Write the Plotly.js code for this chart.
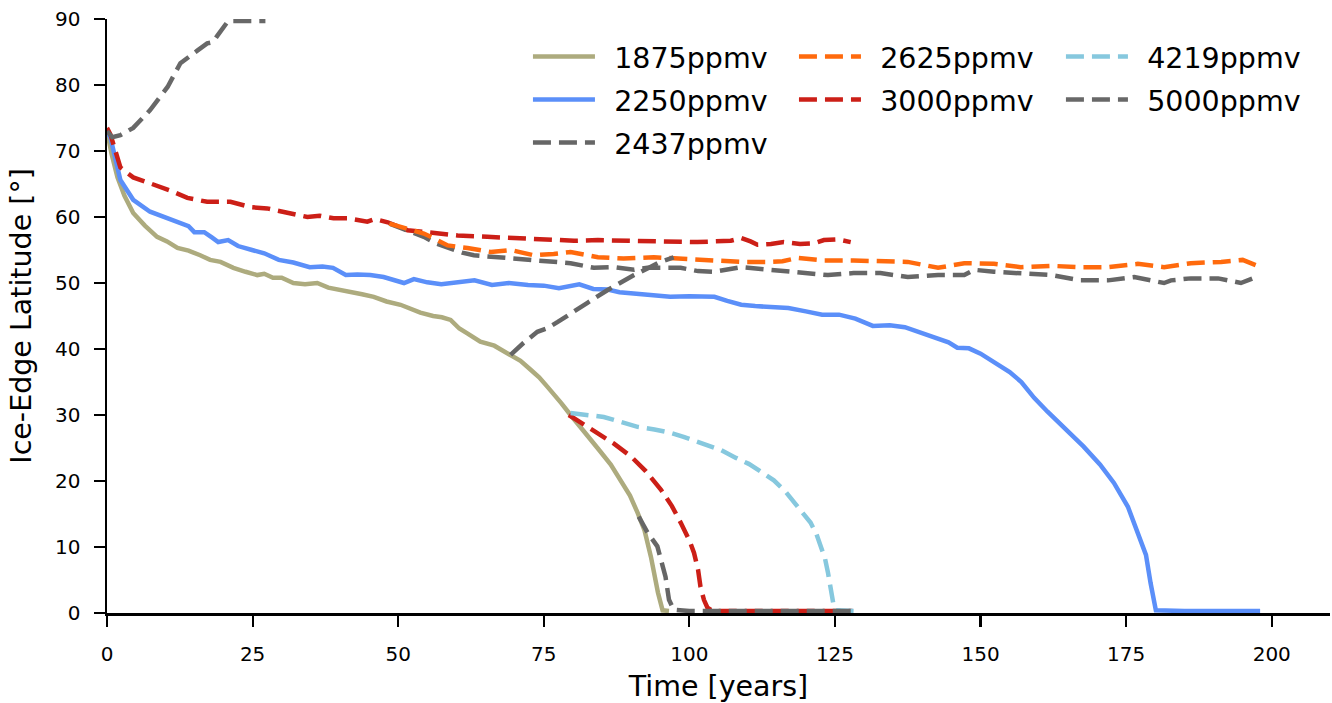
<!DOCTYPE html>
<html>
<head>
<meta charset="utf-8">
<script src="https://cdn.plot.ly/plotly-3.0.1.min.js"></script>
<style>html,body{margin:0;padding:0;background:#fff;}#chart{width:1332px;height:703px;}</style>
</head>
<body>
<div id="chart"></div>
<script>
// ---- data ----
const t1875 = [0, 0.8, 1.8, 3, 4.5, 6.5, 8.6, 10.3, 12.1, 14, 16, 17.7, 19.5, 21.7, 23.8, 25.8, 27, 28.5, 30, 32, 34, 36.1, 38, 40, 41.8, 43.8, 45.8, 48, 50.4, 52, 53.8, 56, 57.5, 59, 60.5, 62, 64.1, 66.5, 69.3, 71, 72.7, 74.2, 75.6, 76.7, 78, 79.6, 82, 84.5, 86.5, 88.2, 89.8, 91.1, 92.3, 93.4, 94.6, 95.4, 96.5];
const lat1875 = [73, 69.5, 66, 63.2, 60.6, 58.7, 57, 56.3, 55.3, 54.9, 54.2, 53.5, 53.2, 52.3, 51.7, 51.2, 51.4, 50.8, 50.8, 50, 49.8, 50, 49.3, 49, 48.6, 48.3, 47.9, 47.2, 46.7, 46.2, 45.5, 45, 44.8, 44.4, 43.1, 42.3, 41.1, 40.5, 39.1, 38.2, 36.9, 35.7, 34.3, 33.2, 31.8, 30, 27.5, 24.7, 22.5, 20.2, 17.8, 15.2, 12.5, 8.5, 3.1, 0.4, 0.3];

const t2250 = [0, 0.6, 2.3, 4.5, 7.4, 10, 12.2, 14, 15, 16.7, 18, 19.1, 20.8, 22.5, 24.9, 27, 29.5, 32, 34.8, 37, 38.8, 41, 43, 45.2, 47.5, 49.5, 51, 52.7, 55, 57.4, 60, 63.1, 66.1, 69, 72.3, 75, 77.6, 79.5, 81.1, 83.5, 86, 88, 91, 94, 96.7, 100, 104.3, 106.5, 108.9, 111.3, 114, 117, 120, 122.8, 125.7, 128.5, 131.5, 134.4, 137, 139.5, 142, 144.5, 146, 148, 150, 152.5, 155, 157, 159.2, 161.5, 164.3, 166, 167.7, 170.5, 172.9, 175.3, 177, 178.4, 179.2, 180.1, 185, 190, 195, 198];
const lat2250 = [73, 72, 65.6, 62.6, 60.8, 59.9, 59.2, 58.6, 57.7, 57.7, 56.9, 56.2, 56.5, 55.6, 55, 54.5, 53.5, 53.1, 52.4, 52.5, 52.3, 51.2, 51.3, 51.2, 50.9, 50.4, 50, 50.6, 50.1, 49.8, 50.1, 50.4, 49.7, 50, 49.7, 49.6, 49.2, 49.6, 49.8, 49.1, 49, 48.6, 48.3, 48.1, 47.9, 48, 47.9, 47.3, 46.7, 46.5, 46.4, 46.2, 45.7, 45.2, 45.2, 44.6, 43.5, 43.6, 43.3, 42.5, 41.8, 41, 40.2, 40.1, 39.3, 37.8, 36.5, 35, 32.6, 30.5, 28.2, 26.8, 25.2, 22.5, 19.7, 16.1, 12, 8.8, 4.5, 0.4, 0.3, 0.3, 0.3, 0.3];

const t2437a = [48.5, 50.4, 52.5, 54.4, 56.5, 58.5, 61, 63, 65.5, 68.2, 71.6, 73.5, 75.7, 77.5, 79.6, 83.6, 87.1, 90.5, 92.8, 95.5, 98.5, 101.5, 104.2, 108.8, 113.5, 118.6, 123.8, 128.2, 132.8, 137.5, 142.7, 147.2, 148.9, 152.3, 156.9, 162.1, 167.2, 171.9, 176.4, 181.5, 182.7, 186.1, 190.8, 194.7, 197.3];
const lat2437a = [59, 58.3, 57.6, 57, 56, 55.3, 54.6, 54.2, 54, 53.9, 53.5, 53.4, 53.3, 53.1, 53, 52.3, 52.4, 52, 52.3, 52.3, 52.3, 51.8, 51.7, 52.4, 52, 51.7, 51.2, 51.5, 51.5, 50.9, 51.2, 51.2, 52, 51.7, 51.5, 51.2, 50.4, 50.4, 50.9, 50, 50.4, 50.7, 50.7, 50, 50.9];
const t2437b = [69.3, 71.5, 73.9, 75.5, 77.4, 80, 82.5, 85.9, 88.7, 90.5, 92.8, 95, 97.3];
const lat2437b = [39.1, 40.9, 42.6, 43.1, 44.1, 45.5, 47, 48.9, 50.4, 51.2, 52.2, 53.2, 53.9];
const t2437c = [91.3, 92.8, 94.5, 95.9, 96.5, 97.3, 100, 105, 110, 115, 120, 125, 128.2];
const lat2437c = [14.6, 12.2, 10.1, 5.5, 2, 0.5, 0.3, 0.3, 0.3, 0.3, 0.3, 0.3, 0.3];

const t2625 = [48.5, 50.4, 52.5, 54.4, 56.5, 58.5, 61.9, 65.9, 69.3, 73.3, 76.7, 79.6, 84.3, 88.7, 93.9, 98.5, 104.2, 108.8, 113.5, 116, 118.6, 123.1, 128.2, 133.4, 137.5, 142.7, 147.2, 152.3, 156.9, 162.1, 167.2, 171.9, 177, 181.5, 186.1, 191.3, 195, 197.3];
const lat2625 = [59, 58.5, 58, 57.5, 56.6, 55.7, 55.3, 54.7, 55, 54.2, 54.4, 54.7, 53.9, 53.7, 53.9, 53.7, 53.4, 53.2, 53.2, 53.3, 53.8, 53.4, 53.4, 53.2, 53.2, 52.3, 53, 52.9, 52.4, 52.6, 52.4, 52.4, 52.9, 52.4, 53, 53.2, 53.5, 52.7];

const t3000a = [0, 0.6, 2.3, 4.5, 7.4, 10.9, 13.8, 17.2, 21.2, 24.6, 27.5, 30.9, 34.4, 36.5, 38.9, 41.5, 44.7, 46, 48.2, 51.6, 55.6, 60.2, 65.3, 69.8, 75.6, 80.2, 84.3, 89.9, 95.6, 101.4, 107.1, 108.9, 110.5, 111.7, 114, 116.2, 119, 121.4, 123.1, 125.5, 127.7];
const lat3000a = [73.5, 72.5, 67.5, 66, 65.1, 64, 62.9, 62.3, 62.3, 61.5, 61.3, 60.6, 60, 60.2, 59.8, 59.8, 59.3, 59.7, 59.2, 58, 57.7, 57.2, 57, 56.8, 56.5, 56.4, 56.5, 56.4, 56.4, 56.2, 56.4, 56.8, 56.3, 55.8, 55.9, 56.2, 55.9, 56, 56.5, 56.6, 56.2];
const t3000b = [79.3, 81.5, 84.3, 87, 90, 92.5, 95.1, 97, 98.5, 100, 100.8, 101.5, 101.9, 102.5, 103.1, 104, 108, 112, 116, 120, 124, 128];
const lat3000b = [30, 28.8, 27.3, 25.7, 23.7, 21.5, 18.7, 16.2, 13.7, 11, 9.1, 6.5, 4, 2, 0.8, 0.3, 0.3, 0.3, 0.3, 0.3, 0.3, 0.3];

const t4219 = [79.6, 82, 85.3, 88, 91.1, 94, 96.8, 99, 101.4, 103.5, 105.4, 108, 110.2, 112.3, 114.5, 116.5, 118, 119.5, 120.8, 121.8, 122.6, 123.3, 123.8, 124.3, 124.7, 125.2, 127, 128.5];
const lat4219 = [30.3, 30, 29.7, 29, 28.2, 27.8, 27.3, 26.7, 26, 25.4, 24.7, 23.5, 22.6, 21.4, 20.1, 18.4, 16.8, 15.3, 13.7, 12, 10.1, 8.2, 6.1, 3.5, 1.5, 0.4, 0.3, 0.3];

const t5000 = [0, 0.9, 2.3, 4.5, 7.4, 10.4, 12.6, 14, 15.5, 17.2, 18.2, 18.9, 20.3, 20.8, 24, 27.2];
const lat5000 = [73, 72.1, 72.4, 73.5, 76.2, 79.7, 83.3, 84.3, 85.2, 86.3, 86.5, 87.4, 89.3, 89.7, 89.7, 89.7];

const xTicks = [0, 25, 50, 75, 100, 125, 150, 175, 200];
const yTicks = [0, 10, 20, 30, 40, 50, 60, 70, 80, 90];

// ---- styles ----
const FONT = 'DejaVu Sans, Verdana, sans-serif';
const W = 4.5;
const DASH = '18px,8px';
const GAP = '\u2002'; // spacing between legend handle and label
const C = {
  c1875: '#adab7e', c2250: '#5b8ff9', c2437: '#666666', c2625: '#ff6a0d',
  c3000: '#cc1f17', c4219: '#86c8de', c5000: '#686868'
};

function tr(x, y, name, color, dash, legend, show) {
  return {
    type: 'scatter', mode: 'lines', x: x, y: y, name: GAP + name,
    legend: legend, legendgroup: name, showlegend: show,
    line: {color: color, width: W, dash: dash}, hoverinfo: 'skip'
  };
}

const traces = [
  tr(t1875, lat1875, '1875ppmv', C.c1875, 'solid', 'legend', true),
  tr(t2250, lat2250, '2250ppmv', C.c2250, 'solid', 'legend', true),
  tr(t3000a, lat3000a, '3000ppmv', C.c3000, DASH, 'legend2', false),
  tr(t2437a, lat2437a, '2437ppmv', C.c2437, DASH, 'legend', false),
  tr(t2625, lat2625, '2625ppmv', C.c2625, DASH, 'legend2', true),
  tr(t2437b, lat2437b, '2437ppmv', C.c2437, DASH, 'legend', true),
  tr(t3000b, lat3000b, '3000ppmv', C.c3000, DASH, 'legend2', true),
  tr(t4219, lat4219, '4219ppmv', C.c4219, DASH, 'legend3', true),
  tr(t2437c, lat2437c, '2437ppmv', C.c2437, DASH, 'legend', false),
  tr(t5000, lat5000, '5000ppmv', C.c5000, DASH, 'legend3', true)
];

function leg(x) {
  return {
    x: x, y: 0.979, xanchor: 'left', yanchor: 'top', xref: 'paper', yref: 'paper',
    bgcolor: 'rgba(0,0,0,0)', borderwidth: 0, itemwidth: 62,
    font: {family: FONT, size: 28.5, color: '#000'},
    traceorder: 'grouped', tracegroupgap: 3, itemclick: false, itemdoubleclick: false
  };
}

const axisCommon = {
  showline: true, linecolor: '#000', linewidth: 2.5, mirror: false,
  ticks: 'outside', ticklen: 11, tickwidth: 2.2, tickcolor: '#000',
  showgrid: false, zeroline: false,
  tickfont: {family: FONT, size: 20, color: '#000'}
};

const layout = {
  width: 1332, height: 703,
  margin: {l: 107, r: 2, t: 19, b: 90},
  paper_bgcolor: '#fff', plot_bgcolor: '#fff',
  showlegend: true,
  xaxis: Object.assign({}, axisCommon, {
    range: [0, 210], tickmode: 'array', tickvals: xTicks, ticktext: xTicks.map(String),
    ticklabelstandoff: 10,
    title: {text: 'Time [years]', font: {family: FONT, size: 28.5, color: '#000'}, standoff: 12},
    automargin: false
  }),
  yaxis: Object.assign({}, axisCommon, {
    range: [0, 90], tickmode: 'array', tickvals: yTicks, ticktext: yTicks.map(String),
    ticklabelstandoff: 9,
    title: {text: 'Ice-Edge Latitude [°]', font: {family: FONT, size: 28.5, color: '#000'}, standoff: 15},
    automargin: false
  }),
  legend: leg(0.3442),
  legend2: leg(0.5617),
  legend3: leg(0.7800)
};

Plotly.newPlot('chart', traces, layout, {staticPlot: true, displayModeBar: false});
</script>
</body>
</html>
